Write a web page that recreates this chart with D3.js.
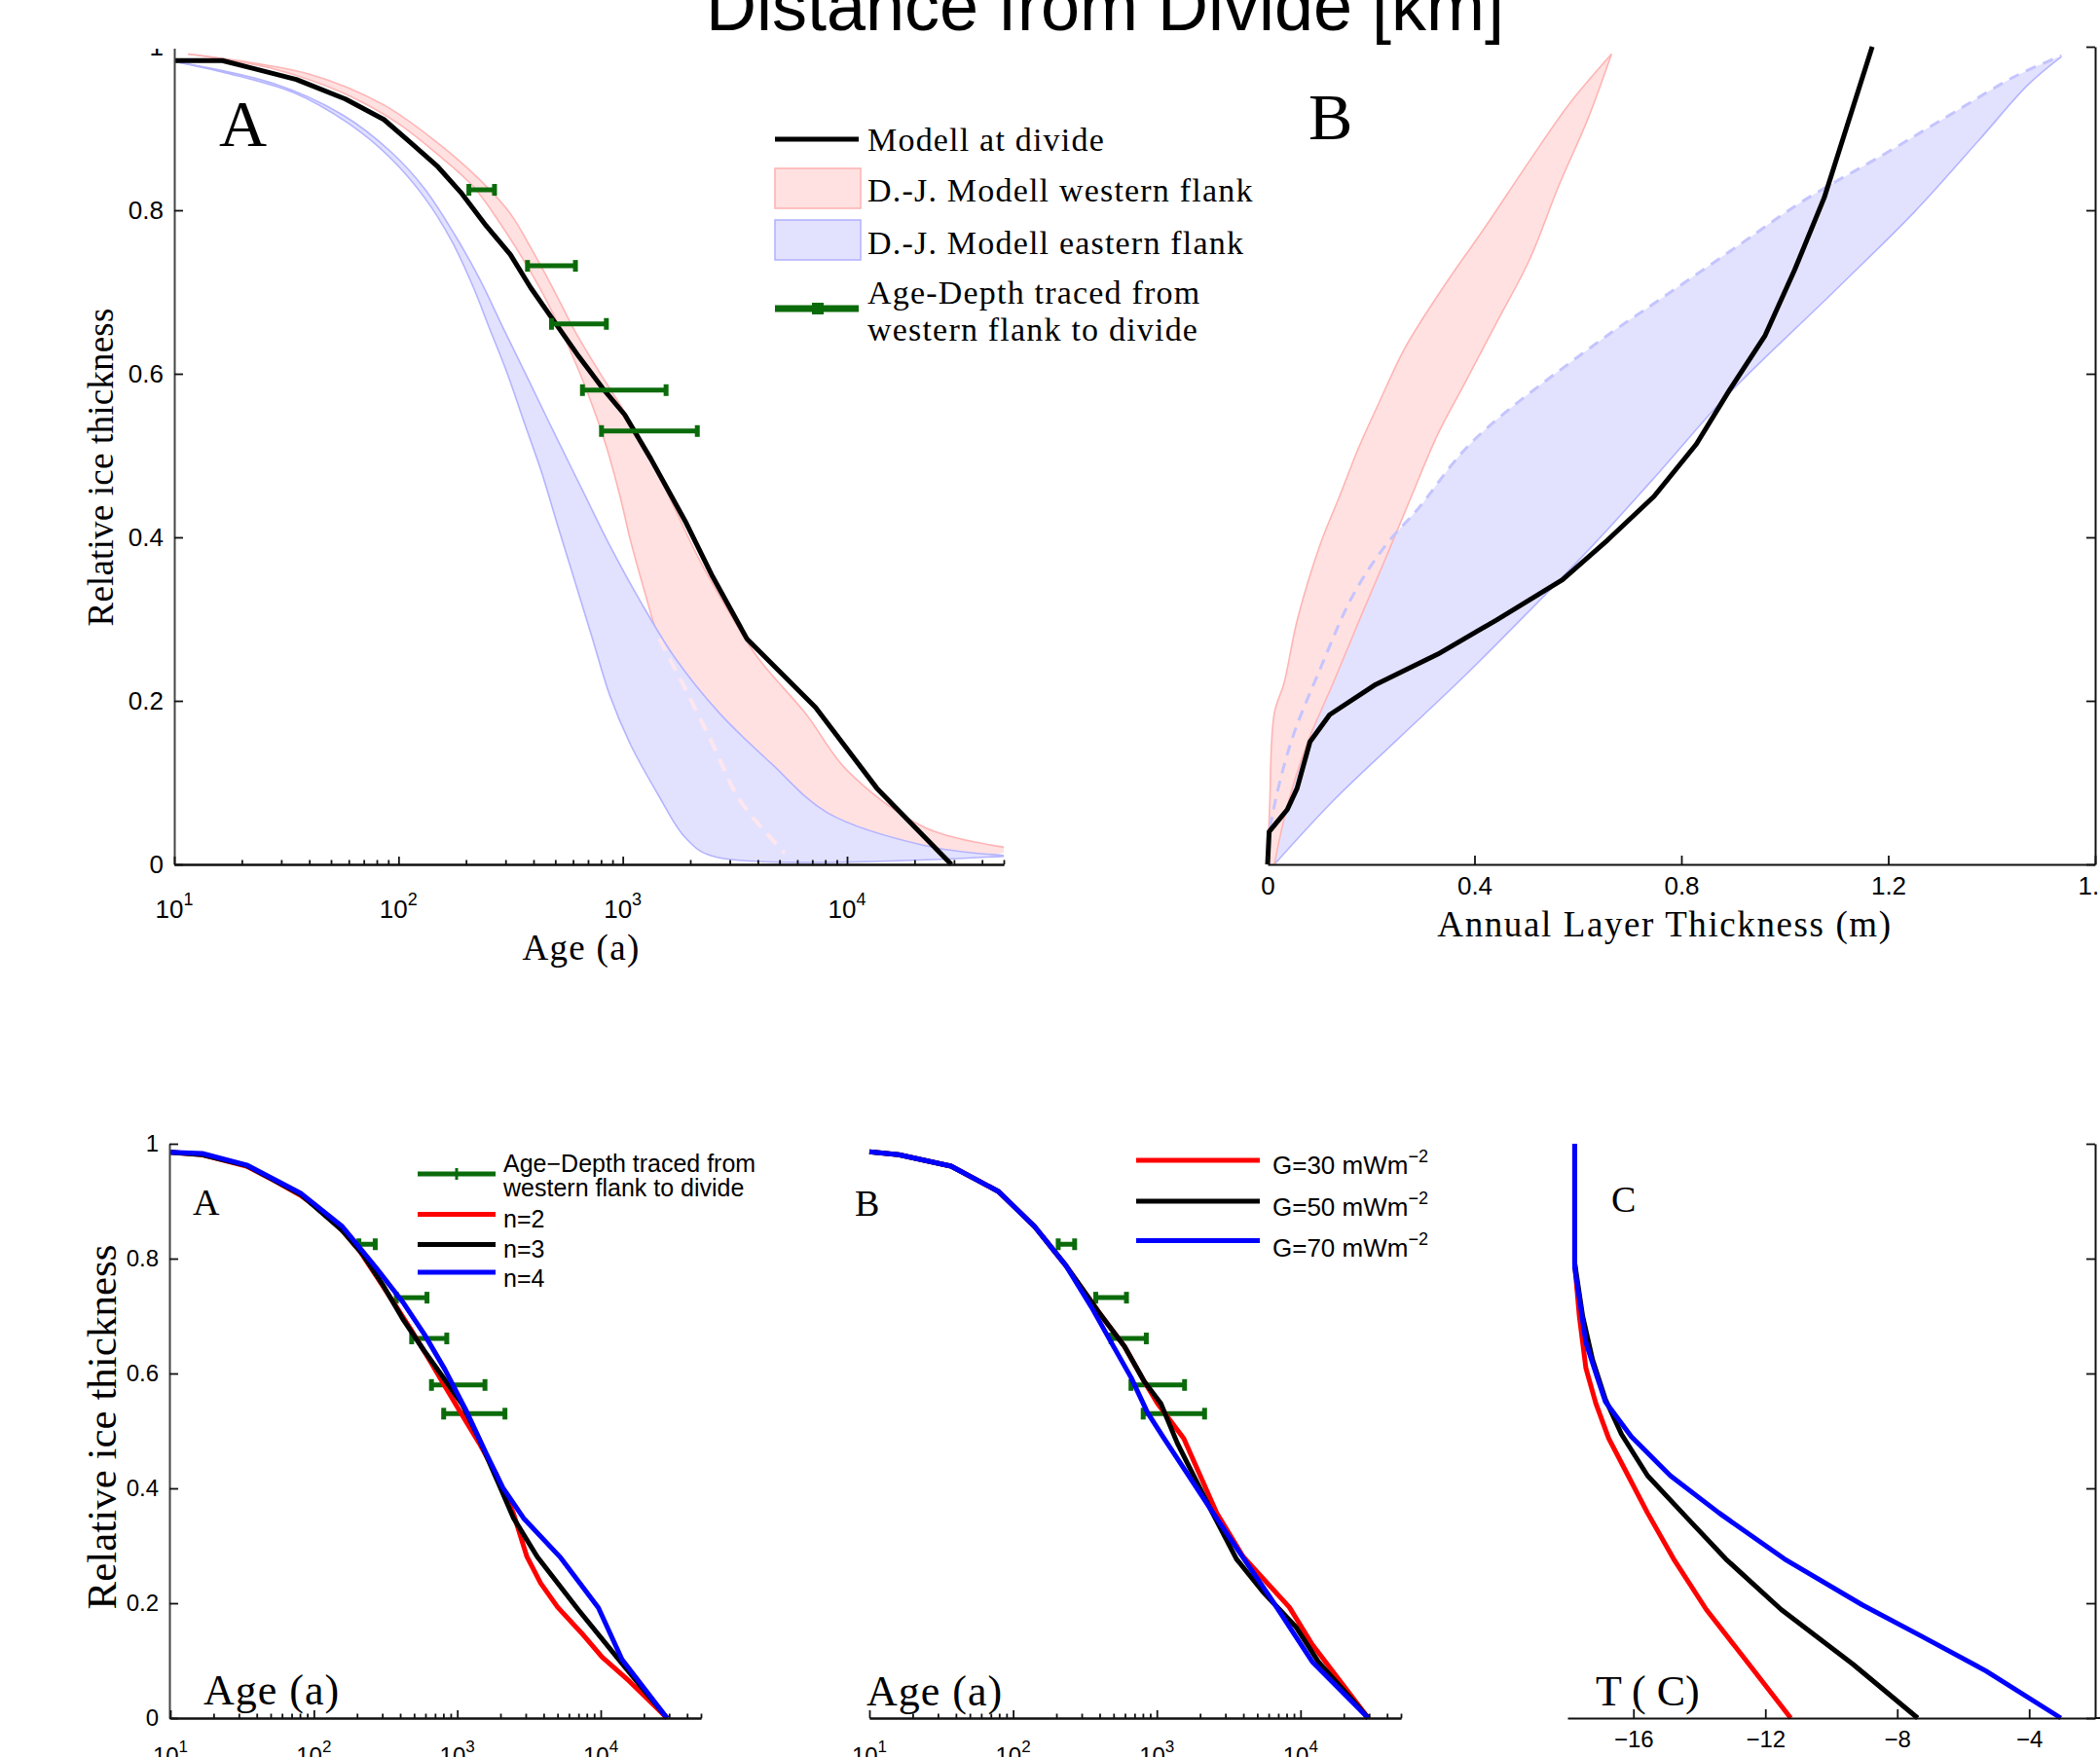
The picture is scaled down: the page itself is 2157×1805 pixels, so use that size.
<!DOCTYPE html>
<html lang="en">
<head>
<meta charset="UTF-8">
<title>Age-depth and layer thickness at the divide</title>
<script src="https://d3js.org/d3.v7.min.js"></script>
<style>
  body { margin: 0; background: #fff; }
  svg { display: block; background: #fff; }
  .serif { font-family: "Liberation Serif", "Times New Roman", serif; fill: #000; }
  .sans { font-family: "Liberation Sans", Arial, sans-serif; fill: #000; }
</style>
</head>
<body>
<svg id="fig" width="2157" height="1805"></svg>
<script>
// ---------- values ----------

// top A: age (a) vs relative ice thickness, model at divide
const divideAge   = [10, 16.4, 35, 58, 86, 113, 150, 192, 246, 315, 389, 498, 637, 810, 1020, 1334, 1897, 2515, 3575, 7240, 13600, 29200];
const divideDepth = [0.983, 0.983, 0.960, 0.936, 0.911, 0.883, 0.853, 0.820, 0.781, 0.746, 0.705, 0.663, 0.621, 0.583, 0.550, 0.496, 0.420, 0.352, 0.276, 0.192, 0.093, 0];

// top A: D.-J. model western flank (band edges)
const westAgeL = [11.5, 27.7, 56, 98.6, 150, 214, 284, 376, 464, 573, 708, 845, 973, 1081, 1245, 1453, 1897, 2518, 3337, 5270];
const westDepL = [0.991, 0.973, 0.944, 0.907, 0.868, 0.830, 0.784, 0.731, 0.686, 0.633, 0.572, 0.511, 0.450, 0.397, 0.336, 0.276, 0.215, 0.147, 0.078, 0.014];
const westAgeR = [11.5, 39.4, 85.7, 150, 229, 315, 389, 481, 615, 787, 1042, 1334, 1706, 2183, 2897, 4020, 6560, 10000, 22300, 50000];
const westDepR = [0.991, 0.967, 0.929, 0.882, 0.838, 0.796, 0.754, 0.708, 0.651, 0.602, 0.549, 0.496, 0.435, 0.374, 0.314, 0.252, 0.184, 0.115, 0.045, 0.021];

// top A: D.-J. model eastern flank (band edges)
const eastAgeL = [10, 17, 34, 60, 92, 131, 173, 214, 255, 304, 363, 433, 516, 615, 733, 875, 1081, 1433, 1897, 2518, 50000];
const eastDepL = [0.982, 0.968, 0.944, 0.906, 0.864, 0.815, 0.762, 0.708, 0.655, 0.602, 0.541, 0.481, 0.412, 0.344, 0.276, 0.207, 0.147, 0.086, 0.033, 0.010, 0.010];
const eastAgeR = [10, 27.7, 56, 92, 131, 179, 230, 294, 376, 498, 660, 875, 1202, 1706, 2698, 4610, 8200, 22300, 50000];
const eastDepR = [0.982, 0.955, 0.917, 0.872, 0.826, 0.769, 0.716, 0.655, 0.595, 0.526, 0.458, 0.390, 0.321, 0.253, 0.185, 0.123, 0.063, 0.023, 0.011];

// age-depth traced from western flank to divide
const traceDepth  = [0.825, 0.732, 0.661, 0.580, 0.530];
const traceAgeMin = [206, 376, 481, 661, 804];
const traceAgeMax = [268, 615, 845, 1560, 2150];

// top B: annual layer thickness (m) vs relative ice thickness
const layerDivide      = [0, 0.003, 0.038, 0.057, 0.082, 0.120, 0.209, 0.329, 0.443, 0.570, 0.658, 0.747, 0.829, 0.892, 0.962, 1.019, 1.076, 1.169];
const layerDivideDepth = [0, 0.040, 0.067, 0.093, 0.150, 0.183, 0.220, 0.257, 0.299, 0.348, 0.397, 0.450, 0.514, 0.579, 0.647, 0.727, 0.815, 1.0];

const westLayerL  = [0, 0.004, 0.013, 0.032, 0.057, 0.101, 0.139, 0.177, 0.215, 0.266, 0.342, 0.418, 0.506, 0.582, 0.665];
const westLayerLD = [0, 0.071, 0.185, 0.222, 0.298, 0.390, 0.450, 0.511, 0.564, 0.632, 0.708, 0.777, 0.860, 0.929, 0.991];
const westLayerR  = [0.013, 0.038, 0.076, 0.127, 0.177, 0.228, 0.278, 0.329, 0.380, 0.443, 0.506, 0.563, 0.620, 0.665];
const westLayerRD = [0, 0.071, 0.147, 0.222, 0.298, 0.374, 0.450, 0.526, 0.587, 0.663, 0.739, 0.830, 0.913, 0.991];

const eastLayerUp  = [0, 0.006, 0.044, 0.101, 0.165, 0.228, 0.291, 0.396, 0.633, 0.759, 0.913, 1.032, 1.196, 1.328, 1.446, 1.535];
const eastLayerUpD = [0, 0.048, 0.147, 0.238, 0.329, 0.390, 0.435, 0.517, 0.636, 0.691, 0.758, 0.810, 0.870, 0.920, 0.964, 0.989];
const eastLayerLo  = [0.013, 0.127, 0.253, 0.380, 0.506, 0.633, 0.759, 0.886, 1.094, 1.252, 1.377, 1.471, 1.535];
const eastLayerLoD = [0, 0.078, 0.154, 0.230, 0.310, 0.393, 0.481, 0.572, 0.700, 0.799, 0.887, 0.954, 0.988];

// bottom A: flow law exponent n
const n2Age   = [10, 16.7, 34, 53, 82, 114, 158, 208, 274, 361, 474, 624, 820, 1079, 1420, 1868, 2457, 3059, 3811, 5012, 7357, 10230, 15850, 29000];
const n2Depth = [0.985, 0.981, 0.961, 0.936, 0.909, 0.883, 0.849, 0.814, 0.769, 0.723, 0.677, 0.628, 0.578, 0.528, 0.479, 0.425, 0.357, 0.281, 0.235, 0.193, 0.148, 0.106, 0.064, 0];
const n3Age   = [10, 16.7, 34, 82, 158, 220, 305, 424, 590, 820, 1079, 1420, 1868, 2457, 3610, 6960, 13450, 29000];
const n3Depth = [0.985, 0.981, 0.962, 0.911, 0.849, 0.807, 0.753, 0.692, 0.639, 0.589, 0.547, 0.486, 0.418, 0.349, 0.281, 0.189, 0.101, 0];
const n4Age   = [10, 16.7, 34, 82, 158, 274, 424, 590, 820, 1140, 1580, 2080, 2900, 5270, 9640, 14070, 29000];
const n4Depth = [0.985, 0.983, 0.963, 0.913, 0.856, 0.783, 0.722, 0.668, 0.607, 0.538, 0.462, 0.401, 0.348, 0.279, 0.192, 0.102, 0];

// bottom B: geothermal heat flux G
const g30Age   = [10, 16, 37, 79, 141, 233, 391, 596, 818, 1010, 1540, 2610, 3990, 8360, 12080, 29600];
const g30Depth = [0.986, 0.981, 0.961, 0.917, 0.856, 0.788, 0.708, 0.647, 0.586, 0.548, 0.487, 0.357, 0.281, 0.193, 0.128, 0];
const g50Age   = [10, 16, 37, 79, 141, 233, 391, 596, 818, 1066, 1387, 2350, 3584, 5470, 9270, 13400, 29600];
const g50Depth = [0.986, 0.981, 0.961, 0.917, 0.856, 0.788, 0.708, 0.647, 0.586, 0.548, 0.479, 0.365, 0.277, 0.220, 0.159, 0.097, 0];
const g70Age   = [10, 16, 37, 79, 141, 233, 352, 482, 662, 861, 1122, 1625, 2350, 3776, 6077, 8360, 12080, 29600];
const g70Depth = [0.986, 0.981, 0.961, 0.917, 0.856, 0.788, 0.715, 0.654, 0.593, 0.532, 0.487, 0.426, 0.365, 0.288, 0.212, 0.159, 0.098, 0];

// bottom C: temperature (C)
const g30T  = [-17.78, -17.78, -17.64, -17.44, -17.14, -16.75, -16.16, -15.57, -14.78, -13.79, -12.50, -11.23];
const g30TD = [1.0, 0.792, 0.700, 0.609, 0.548, 0.487, 0.422, 0.357, 0.277, 0.189, 0.094, 0];
const g50T  = [-17.78, -17.78, -17.54, -17.24, -16.85, -16.36, -15.57, -14.38, -13.20, -11.52, -9.35, -7.38];
const g50TD = [1.0, 0.792, 0.700, 0.624, 0.555, 0.494, 0.422, 0.349, 0.277, 0.189, 0.094, 0];
const g70T  = [-17.78, -17.78, -17.64, -17.44, -17.14, -16.85, -16.06, -14.88, -13.40, -11.42, -9.06, -7.28, -5.31, -3.04];
const g70TD = [1.0, 0.784, 0.731, 0.654, 0.601, 0.551, 0.490, 0.422, 0.357, 0.277, 0.197, 0.143, 0.082, 0];

// ticks
const depthTicks = [0, 0.2, 0.4, 0.6, 0.8, 1];
const layerTicks = [0, 0.4, 0.8, 1.2, 1.6];
const tempTicks  = [-16, -12, -8, -4];

// ---------- drawing ----------
const svg = d3.select("#fig");
const green = "#0b6b0b", pinkFill = "#ffe1e1", pinkEdge = "#ffb4b4", blueFill = "#e2e2ff", blueEdge = "#b4b4ff";
const zip = (a, b) => a.map((v, i) => [v, b[i]]);

const xTA  = d3.scaleLog().domain([10, 5e4]).range([179, 1031]);
const yTop = d3.scaleLinear().domain([0, 1]).range([888, 48]);
const xTB  = d3.scaleLinear().domain([0, 1.6]).range([1302, 2152]);
const xBA  = d3.scaleLog().domain([10, 5e4]).range([175, 720]);
const xBB  = d3.scaleLog().domain([10, 5e4]).range([893, 1439]);
const xBC  = d3.scaleLinear().domain([-18, -2]).range([1610, 2152]);
const yBot = d3.scaleLinear().domain([0, 1]).range([1765, 1175]);

function path(x, y) { return d3.line().x(d => x(d[0])).y(d => y(d[1])); }
function smooth(x, y) { return path(x, y).curve(d3.curveCatmullRom.alpha(0.5)); }
// closed band from two smooth edges (second edge walked backwards)
function band(x, y, a, b) {
  const s = smooth(x, y);
  return s(a) + "L" + s(b.slice().reverse()).slice(1) + "Z";
}

function styleAxis(g, fs) {
  g.attr("font-size", fs).attr("font-family", "Liberation Sans, Arial, sans-serif");
  g.selectAll("path.domain").attr("stroke", "#111").attr("stroke-width", 2);
  g.selectAll(".tick line").attr("stroke", "#111").attr("stroke-width", 1.8);
  g.selectAll(".tick text").attr("fill", "#000");
  return g;
}

// log axis; labelDy is the label baseline below the axis line
function logAxis(x, y0, fs, labelDy, supFs, rise) {
  const g = svg.append("g").attr("transform", `translate(0,${y0})`);
  const isMajor = t => Math.abs(Math.log10(t) - Math.round(Math.log10(t))) < 1e-9;
  const minors = x.ticks().filter(t => !isMajor(t));
  const majors = x.ticks().filter(isMajor);
  styleAxis(g.append("g").call(d3.axisBottom(x).tickValues(minors).tickSize(-4.5).tickSizeOuter(0).tickFormat("")), fs);
  styleAxis(g.append("g").call(d3.axisBottom(x).tickValues(majors).tickSize(-8).tickSizeOuter(0).tickFormat("")), fs);
  g.append("g").attr("class", "sans").attr("font-size", fs)
    .selectAll("text").data(majors).join("text")
    .attr("x", d => x(d)).attr("y", labelDy).attr("text-anchor", "middle")
    .each(function (d) {
      const t = d3.select(this);
      t.append("tspan").text("10");
      t.append("tspan").attr("font-size", supFs).attr("dy", -rise).text(Math.round(Math.log10(d)));
    });
}

function traceBars(x, y) {
  const g = svg.append("g").attr("stroke", green).attr("stroke-width", 5);
  traceDepth.forEach((d, i) => {
    const x0 = x(traceAgeMin[i]), x1 = x(traceAgeMax[i]), yy = y(d);
    g.append("line").attr("x1", x0).attr("x2", x1).attr("y1", yy).attr("y2", yy);
    [x0, x1].forEach(xx => g.append("line").attr("x1", xx).attr("x2", xx).attr("y1", yy - 6).attr("y2", yy + 6));
  });
}

function curve(x, y, data, color, w, gen) {
  svg.append("path").attr("d", (gen || path)(x, y)(data)).attr("fill", "none")
    .attr("stroke", color).attr("stroke-width", w).attr("stroke-linejoin", "round");
}

// ===== top A =====
svg.append("path").attr("d", band(xTA, yTop, zip(westAgeL, westDepL).concat([[5e4, 0.014]]), zip(westAgeR, westDepR)))
  .attr("fill", pinkFill).attr("stroke", "none");
curve(xTA, yTop, zip(westAgeL, westDepL), pinkEdge, 1.6, smooth);
curve(xTA, yTop, zip(westAgeR, westDepR), pinkEdge, 1.6, smooth);
svg.append("path").attr("d", band(xTA, yTop, zip(eastAgeL, eastDepL), zip(eastAgeR, eastDepR)))
  .attr("fill", blueFill).attr("stroke", "none");
curve(xTA, yTop, zip(eastAgeL, eastDepL), blueEdge, 1.6, smooth);
curve(xTA, yTop, zip(eastAgeR, eastDepR), blueEdge, 1.6, smooth);
// hidden part of the western inner edge, seen through the eastern band
svg.append("path").attr("d", smooth(xTA, yTop)(zip(westAgeL, westDepL).filter(d => d[1] <= 0.28)))
  .attr("fill", "none").attr("stroke", "#fde6ee").attr("stroke-width", 4).attr("stroke-dasharray", "14 9");
curve(xTA, yTop, zip(divideAge, divideDepth), "#000", 5);
traceBars(xTA, yTop);

svg.append("clipPath").attr("id", "clipTop").append("rect")
  .attr("x", -400).attr("y", 50).attr("width", 3000).attr("height", 2000);
const axTAy = svg.append("g").attr("transform", "translate(179,0)").attr("clip-path", "url(#clipTop)")
  .call(d3.axisLeft(yTop).tickValues(depthTicks).tickSize(-9).tickPadding(11).tickSizeOuter(0)
    .tickFormat(d => d === 0 ? "0" : d === 1 ? "1" : d3.format(".1f")(d)));
styleAxis(axTAy, 26).selectAll("path.domain").attr("stroke", "#444");
logAxis(xTA, 888, 26, 55, 18, 13);

svg.append("text").attr("class", "serif").attr("x", 225).attr("y", 150).attr("font-size", 68).text("A");
svg.append("text").attr("class", "serif").attr("transform", "translate(116,480) rotate(-90)")
  .attr("text-anchor", "middle").attr("font-size", 37).attr("letter-spacing", 0.2).text("Relative ice thickness");
svg.append("text").attr("class", "serif").attr("x", 597).attr("y", 986).attr("text-anchor", "middle")
  .attr("font-size", 37).attr("letter-spacing", 1.3).text("Age (a)");

// legend top A
const lgA = svg.append("g");
lgA.append("line").attr("x1", 796).attr("x2", 882).attr("y1", 143).attr("y2", 143).attr("stroke", "#000").attr("stroke-width", 5);
lgA.append("rect").attr("x", 796).attr("y", 173).attr("width", 88).attr("height", 41).attr("fill", pinkFill).attr("stroke", pinkEdge).attr("stroke-width", 1.6);
lgA.append("rect").attr("x", 796).attr("y", 226).attr("width", 88).attr("height", 41).attr("fill", blueFill).attr("stroke", blueEdge).attr("stroke-width", 1.6);
lgA.append("line").attr("x1", 796).attr("x2", 882).attr("y1", 317).attr("y2", 317).attr("stroke", green).attr("stroke-width", 7);
lgA.append("rect").attr("x", 834).attr("y", 311).attr("width", 12).attr("height", 12).attr("fill", green);
[["Modell at divide", 155], ["D.-J. Modell western flank", 207], ["D.-J. Modell eastern flank", 261],
 ["Age-Depth traced from", 312], ["western flank to divide", 350]].forEach(([t, yy]) =>
  lgA.append("text").attr("class", "serif").attr("x", 891).attr("y", yy).attr("font-size", 34)
    .attr("letter-spacing", 1.2).text(t));

// ===== top B =====
svg.append("path").attr("d", band(xTB, yTop, zip(eastLayerUp, eastLayerUpD), zip(eastLayerLo, eastLayerLoD)))
  .attr("fill", blueFill).attr("stroke", "none");
curve(xTB, yTop, zip(eastLayerLo, eastLayerLoD), blueEdge, 1.6, smooth);
svg.append("path").attr("d", band(xTB, yTop, zip(westLayerL, westLayerLD), zip(westLayerR, westLayerRD)))
  .attr("fill", pinkFill).attr("stroke", "none");
curve(xTB, yTop, zip(westLayerL, westLayerLD), pinkEdge, 1.6, smooth);
curve(xTB, yTop, zip(westLayerR, westLayerRD), pinkEdge, 1.6, smooth);
svg.append("path").attr("d", smooth(xTB, yTop)(zip(eastLayerUp, eastLayerUpD))).attr("fill", "none")
  .attr("stroke", "#c4c4ff").attr("stroke-width", 3).attr("stroke-dasharray", "11 8");
curve(xTB, yTop, zip(layerDivide, layerDivideDepth), "#000", 5);

const axTBx = svg.append("g").attr("transform", "translate(0,888)")
  .call(d3.axisBottom(xTB).tickValues(layerTicks).tickSize(-9).tickPadding(13).tickSizeOuter(0)
    .tickFormat(d => d === 0 ? "0" : d3.format(".1f")(d)));
styleAxis(axTBx, 26);
const axTBy = svg.append("g").attr("transform", "translate(2152,0)")
  .call(d3.axisRight(yTop).tickValues(depthTicks).tickSize(-9).tickSizeOuter(0).tickFormat(""));
styleAxis(axTBy, 26);
svg.append("text").attr("class", "serif").attr("x", 1344).attr("y", 143).attr("font-size", 68).text("B");
svg.append("text").attr("class", "serif").attr("x", 1710).attr("y", 962).attr("text-anchor", "middle")
  .attr("font-size", 37).attr("letter-spacing", 1.6).text("Annual Layer Thickness (m)");

// ===== bottom A =====
traceBars(xBA, yBot);
curve(xBA, yBot, zip(n2Age, n2Depth), "#ff0000", 5);
curve(xBA, yBot, zip(n3Age, n3Depth), "#000", 5);
curve(xBA, yBot, zip(n4Age, n4Depth), "#0000ff", 5);
const axBAy = svg.append("g").attr("transform", "translate(174,0)")
  .call(d3.axisLeft(yBot).tickValues(depthTicks).tickSize(-9).tickPadding(11).tickSizeOuter(0)
    .tickFormat(d => d === 0 ? "0" : d === 1 ? "1" : d3.format(".1f")(d)));
styleAxis(axBAy, 24).selectAll("path.domain").attr("stroke", "#444");
logAxis(xBA, 1765, 24, 47, 17, 12);
svg.append("text").attr("class", "serif").attr("x", 198).attr("y", 1248).attr("font-size", 38).text("A");
svg.append("text").attr("class", "serif").attr("x", 209).attr("y", 1751).attr("font-size", 44).attr("letter-spacing", 1).text("Age (a)");
svg.append("text").attr("class", "serif").attr("transform", "translate(119,1466) rotate(-90)")
  .attr("text-anchor", "middle").attr("font-size", 43).text("Relative ice thickness");

const lgBA = svg.append("g");
lgBA.append("line").attr("x1", 429).attr("x2", 509).attr("y1", 1206).attr("y2", 1206).attr("stroke", green).attr("stroke-width", 5);
lgBA.append("line").attr("x1", 469).attr("x2", 469).attr("y1", 1200).attr("y2", 1212).attr("stroke", green).attr("stroke-width", 3);
[["#ff0000", 1247.5], ["#000", 1278.5], ["#0000ff", 1307]].forEach(([c, yy]) =>
  lgBA.append("line").attr("x1", 429).attr("x2", 509).attr("y1", yy).attr("y2", yy).attr("stroke", c).attr("stroke-width", 5));
[["Age\u2212Depth traced from", 1204], ["western flank to divide", 1229], ["n=2", 1261], ["n=3", 1292], ["n=4", 1322]]
  .forEach(([t, yy]) => lgBA.append("text").attr("class", "sans").attr("x", 517).attr("y", yy).attr("font-size", 25).text(t));

// ===== bottom B =====
traceBars(xBB, yBot);
curve(xBB, yBot, zip(g30Age, g30Depth), "#ff0000", 5);
curve(xBB, yBot, zip(g50Age, g50Depth), "#000", 5);
curve(xBB, yBot, zip(g70Age, g70Depth), "#0000ff", 5);
logAxis(xBB, 1765, 24, 47, 17, 12);
svg.append("text").attr("class", "serif").attr("x", 878).attr("y", 1249).attr("font-size", 38).text("B");
svg.append("text").attr("class", "serif").attr("x", 890).attr("y", 1752).attr("font-size", 44).attr("letter-spacing", 1).text("Age (a)");

const lgBB = svg.append("g");
[["#ff0000", 1192, "30", 1206], ["#000", 1234, "50", 1249], ["#0000ff", 1274.5, "70", 1291]].forEach(([c, yy, g, ty]) => {
  lgBB.append("line").attr("x1", 1167).attr("x2", 1294).attr("y1", yy).attr("y2", yy).attr("stroke", c).attr("stroke-width", 5);
  const t = lgBB.append("text").attr("class", "sans").attr("x", 1307).attr("y", ty).attr("font-size", 26);
  t.append("tspan").text(`G=${g} mWm`);
  t.append("tspan").attr("font-size", 18).attr("dy", -12).text("\u22122");
});

// ===== bottom C =====
curve(xBC, yBot, zip(g30T, g30TD), "#ff0000", 5);
curve(xBC, yBot, zip(g50T, g50TD), "#000", 5);
curve(xBC, yBot, zip(g70T, g70TD), "#0000ff", 5);
const axBCx = svg.append("g").attr("transform", "translate(0,1765)")
  .call(d3.axisBottom(xBC).tickValues(tempTicks).tickSize(-9).tickPadding(13).tickSizeOuter(0));
styleAxis(axBCx, 24);
svg.append("line").attr("x1", 2152).attr("x2", 2157).attr("y1", 1765).attr("y2", 1765).attr("stroke", "#111").attr("stroke-width", 2);
const axBCy = svg.append("g").attr("transform", "translate(2152,0)")
  .call(d3.axisRight(yBot).tickValues(depthTicks).tickSize(-9).tickSizeOuter(0).tickFormat(""));
styleAxis(axBCy, 24);
svg.append("text").attr("class", "serif").attr("x", 1655).attr("y", 1245).attr("font-size", 38).text("C");
svg.append("text").attr("class", "serif").attr("x", 1639).attr("y", 1752).attr("font-size", 44)
  .attr("xml:space", "preserve").style("white-space", "pre").text("T ( C)");

// title (cut at the top edge)
svg.append("text").attr("class", "sans").attr("x", 1135).attr("y", 31).attr("text-anchor", "middle")
  .attr("font-size", 72).text("Distance from Divide [km]");
</script>
</body>
</html>
